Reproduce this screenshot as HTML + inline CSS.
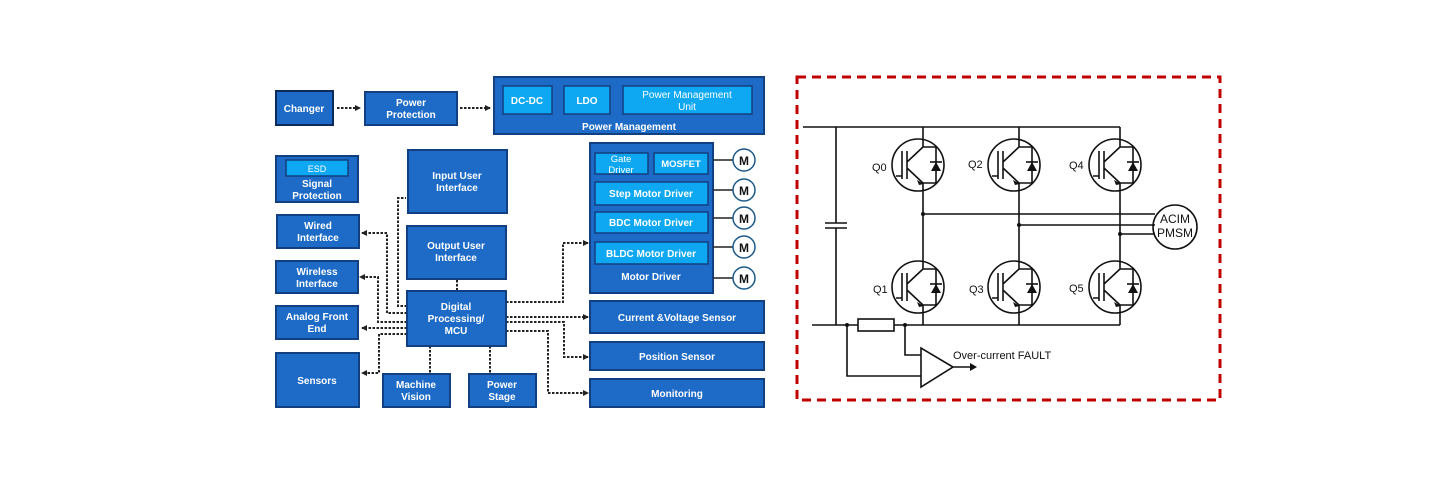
<!DOCTYPE html>
<html><head><meta charset="utf-8"><style>
html,body{margin:0;padding:0;background:#fff;}
svg{display:block;}
text{font-family:"Liberation Sans",Arial,sans-serif;}
.b{fill:#1d6bc6;stroke:#123f80;stroke-width:2;}
.i{fill:#0ea8f2;stroke:#123f80;stroke-width:1.5;}
.t{fill:#fff;font-size:10px;font-weight:bold;text-anchor:middle;}
.d{fill:none;stroke:#222;stroke-width:2;stroke-dasharray:2.5,1.5;}
.w{fill:none;stroke:#222;stroke-width:1.5;}
.m{fill:#fff;stroke:#1a5a8a;stroke-width:1.5;}
.mt{fill:#111;font-size:12px;font-weight:bold;text-anchor:middle;}
.c{fill:none;stroke:#111;stroke-width:1.6;}
.ct{fill:#111;font-size:11px;}
</style></head><body>
<svg width="1440" height="480" viewBox="0 0 1440 480" xmlns="http://www.w3.org/2000/svg">
<defs>
<marker id="a" markerUnits="userSpaceOnUse" markerWidth="6" markerHeight="6" refX="5" refY="3" orient="auto"><path d="M0,0L6,3L0,6z" fill="#222"/></marker>
<g id="q">
<circle cx="0" cy="0" r="26" fill="#fff" stroke="#111" stroke-width="1.6"/>
<path class="c" d="M-22,11H-16M-16,-14V14M-11,-14V14M-11,-3L5,-18V-26M-11,3L5,18V26M5,-18H18V18H5"/>
<path d="M-1,15L6,19L1,20z" fill="#111"/>
<path d="M13,6H23L18,-3z" fill="#111"/><path class="c" d="M12,-3H24"/>
</g>
</defs>
<!-- connectors -->
<path class="d" d="M337,108H360" marker-end="url(#a)"/>
<path class="d" d="M460,108H490" marker-end="url(#a)"/>
<path class="d" d="M407,306H398V198H406"/>
<path class="d" d="M407,313H387V233H362" marker-end="url(#a)"/>
<path class="d" d="M407,322H378V277H360" marker-end="url(#a)"/>
<path class="d" d="M407,328H362" marker-end="url(#a)"/>
<path class="d" d="M407,334H379V373H362" marker-end="url(#a)"/>
<path class="d" d="M457,280V291"/>
<path class="d" d="M430,346V374"/>
<path class="d" d="M490,346V374"/>
<path class="d" d="M506,302H563V243H588" marker-end="url(#a)"/>
<path class="d" d="M506,317H588" marker-end="url(#a)"/>
<path class="d" d="M506,322H564V357H588" marker-end="url(#a)"/>
<path class="d" d="M506,331H548V393H588" marker-end="url(#a)"/>
<!-- top row -->
<rect class="b" x="276" y="91" width="57" height="34" style="stroke:#0b2a5a"/><text class="t" x="304" y="112">Changer</text>
<rect class="b" x="365" y="92" width="92" height="33"/><text class="t" x="411" y="106">Power</text><text class="t" x="411" y="118">Protection</text>
<rect class="b" x="494" y="77" width="270" height="57"/>
<rect class="i" x="503" y="86" width="49" height="28"/><text class="t" x="527" y="104">DC-DC</text>
<rect class="i" x="564" y="86" width="46" height="28"/><text class="t" x="587" y="104">LDO</text>
<rect class="i" x="623" y="86" width="129" height="28"/><text class="t" x="687" y="98" style="font-weight:normal">Power Management</text><text class="t" x="687" y="110" style="font-weight:normal">Unit</text>
<text class="t" x="629" y="130">Power Management</text>
<!-- left col -->
<rect class="b" x="276" y="156" width="82" height="46"/>
<rect class="i" x="286" y="160" width="62" height="16"/><text class="t" x="317" y="172" style="font-weight:normal;font-size:9px">ESD</text>
<text class="t" x="317" y="187">Signal</text><text class="t" x="317" y="199">Protection</text>
<rect class="b" x="277" y="215" width="82" height="33"/><text class="t" x="318" y="229">Wired</text><text class="t" x="318" y="241">Interface</text>
<rect class="b" x="276" y="261" width="82" height="32"/><text class="t" x="317" y="275">Wireless</text><text class="t" x="317" y="287">Interface</text>
<rect class="b" x="276" y="306" width="82" height="33"/><text class="t" x="317" y="320">Analog Front</text><text class="t" x="317" y="332">End</text>
<rect class="b" x="276" y="353" width="83" height="54"/><text class="t" x="317" y="384">Sensors</text>
<rect class="b" x="383" y="374" width="67" height="33"/><text class="t" x="416" y="388">Machine</text><text class="t" x="416" y="400">Vision</text>
<rect class="b" x="469" y="374" width="67" height="33"/><text class="t" x="502" y="388">Power</text><text class="t" x="502" y="400">Stage</text>
<rect class="b" x="408" y="150" width="99" height="63"/><text class="t" x="457" y="179">Input User</text><text class="t" x="457" y="191">Interface</text>
<rect class="b" x="407" y="226" width="99" height="53"/><text class="t" x="456" y="249">Output User</text><text class="t" x="456" y="261">Interface</text>
<rect class="b" x="407" y="291" width="99" height="55"/><text class="t" x="456" y="310">Digital</text><text class="t" x="456" y="322">Processing/</text><text class="t" x="456" y="334">MCU</text>
<!-- motor driver -->
<rect class="b" x="590" y="143" width="123" height="150"/>
<rect class="i" x="595" y="153" width="53" height="21"/><text class="t" x="621" y="162" style="font-weight:normal;font-size:9.5px">Gate</text><text class="t" x="621" y="173" style="font-weight:normal;font-size:9.5px">Driver</text>
<rect class="i" x="654" y="153" width="54" height="21"/><text class="t" x="681" y="167" style="font-size:9.5px">MOSFET</text>
<rect class="i" x="595" y="182" width="113" height="23"/><text class="t" x="651" y="197">Step Motor Driver</text>
<rect class="i" x="595" y="212" width="113" height="21"/><text class="t" x="651" y="226">BDC Motor Driver</text>
<rect class="i" x="595" y="242" width="113" height="22"/><text class="t" x="651" y="257">BLDC Motor Driver</text>
<text class="t" x="651" y="280">Motor Driver</text>
<g>
<path class="w" d="M713,160H733M713,190H733M713,218H733M713,247H733M713,278H733"/>
<circle class="m" cx="744" cy="160" r="11"/><text class="mt" x="744" y="165">M</text>
<circle class="m" cx="744" cy="190" r="11"/><text class="mt" x="744" y="195">M</text>
<circle class="m" cx="744" cy="218" r="11"/><text class="mt" x="744" y="223">M</text>
<circle class="m" cx="744" cy="247" r="11"/><text class="mt" x="744" y="252">M</text>
<circle class="m" cx="744" cy="278" r="11"/><text class="mt" x="744" y="283">M</text>
</g>
<rect class="b" x="590" y="301" width="174" height="32"/><text class="t" x="677" y="321">Current &amp;Voltage Sensor</text>
<rect class="b" x="590" y="342" width="174" height="28"/><text class="t" x="677" y="360">Position Sensor</text>
<rect class="b" x="590" y="379" width="174" height="28"/><text class="t" x="677" y="397">Monitoring</text>

<!-- circuit -->
<rect x="797" y="77" width="423" height="323" fill="none" stroke="#c00000" stroke-width="3" stroke-dasharray="9,6"/>
<path class="c" d="M803,127H1120M812,325H1120M836,127V223M836,228V325M825,223H847M825,228H847"/>
<path class="c" d="M923,127V325M1019,127V325M1120,127V325"/>
<path class="c" d="M923,214H1155M1019,225H1155M1120,234H1155"/>
<g fill="#111"><circle cx="923" cy="214" r="2"/><circle cx="1019" cy="225" r="2"/><circle cx="1120" cy="234" r="2"/><circle cx="847" cy="325" r="2"/><circle cx="905" cy="325" r="2"/></g>
<circle class="c" cx="1175" cy="227" r="22" fill="#fff"/>
<text class="ct" x="1175" y="223" text-anchor="middle" style="font-size:12px">ACIM</text>
<text class="ct" x="1175" y="237" text-anchor="middle" style="font-size:12px">PMSM</text>
<use href="#q" x="918" y="165"/><use href="#q" x="1014" y="165"/><use href="#q" x="1115" y="165"/>
<use href="#q" x="918" y="287"/><use href="#q" x="1014" y="287"/><use href="#q" x="1115" y="287"/>
<text class="ct" x="872" y="171">Q0</text><text class="ct" x="968" y="168">Q2</text><text class="ct" x="1069" y="169">Q4</text>
<text class="ct" x="873" y="293">Q1</text><text class="ct" x="969" y="293">Q3</text><text class="ct" x="1069" y="292">Q5</text>
<rect x="858" y="319" width="36" height="12" fill="#fff" stroke="#111" stroke-width="1.6"/>
<path class="c" d="M905,325V355H921M847,325V376H921M921,348V387L953,367ZM953,367H972"/>
<path d="M970,363L977,367L970,371z" fill="#111"/>
<text class="ct" x="953" y="359">Over-current FAULT</text>
</svg>
</body></html>
